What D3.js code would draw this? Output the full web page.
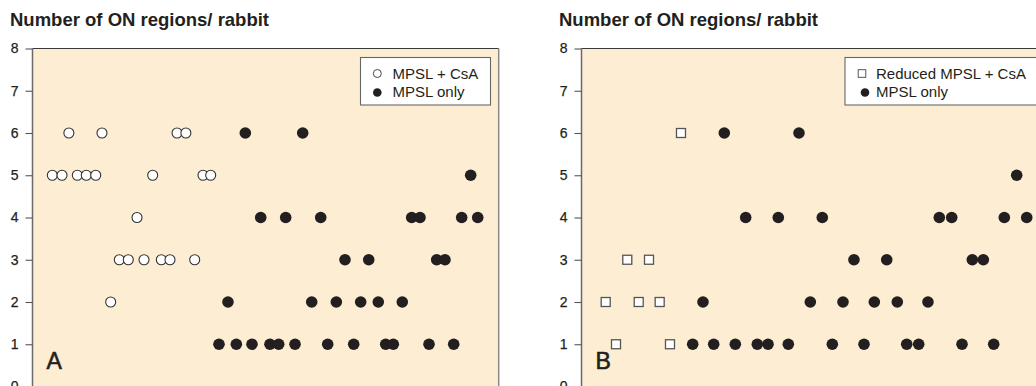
<!DOCTYPE html>
<html>
<head>
<meta charset="utf-8">
<script src="https://cdn.jsdelivr.net/npm/d3@7"></script>
<style>
  html, body { margin: 0; padding: 0; background: #ffffff; }
  svg { display: block; font-family: "Liberation Sans", Arial, Helvetica, sans-serif; }
</style>
</head>
<body>
<svg id="chart" width="1036" height="386"></svg>
<script>
// Number of optic-nerve (ON) regions per rabbit, two treatment comparisons.
const titleText = "Number of ON regions/ rabbit";
const yTickValues = [0, 1, 2, 3, 4, 5, 6, 7, 8];

// Each entry: [horizontal position of the rabbit (0–100), number of ON regions]
const comboA = [
  [7.8, 6], [14.9, 6], [31.0, 6], [32.9, 6],
  [4.25, 5], [6.33, 5], [9.61, 5], [11.54, 5], [13.56, 5], [25.78, 5], [36.57, 5], [38.22, 5],
  [22.42, 4],
  [18.62, 3], [20.55, 3], [23.92, 3], [27.63, 3], [29.49, 3], [34.79, 3],
  [16.77, 2]
];
const mpslA = [
  [45.65, 6], [57.96, 6],
  [93.99, 5],
  [48.95, 4], [54.31, 4], [61.82, 4], [81.34, 4], [83.12, 4], [92.06, 4], [95.5, 4],
  [67.03, 3], [72.12, 3], [86.70, 3], [88.48, 3],
  [41.93, 2], [59.89, 2], [65.17, 2], [70.40, 2], [74.17, 2], [79.32, 2],
  [40.0, 1], [43.72, 1], [47.08, 1], [50.94, 1], [52.81, 1], [56.31, 1], [63.32, 1],
  [68.9, 1], [75.76, 1], [77.39, 1], [85.05, 1], [90.35, 1]
];
const reducedB = [
  [21.34, 6],
  [9.82, 3], [14.48, 3],
  [5.19, 2], [12.27, 2], [16.77, 2],
  [7.40, 1], [18.98, 1]
];
const mpslB = [
  [30.63, 6], [46.65, 6],
  [93.35, 5],
  [35.22, 4], [42.21, 4], [51.65, 4], [76.75, 4], [79.41, 4], [90.69, 4], [95.5, 4],
  [58.44, 3], [65.47, 3], [83.83, 3], [86.19, 3],
  [26.06, 2], [49.08, 2], [56.09, 2], [62.81, 2], [67.74, 2], [74.32, 2],
  [23.85, 1], [28.36, 1], [32.99, 1], [37.71, 1], [40.01, 1], [44.36, 1], [53.8, 1],
  [60.6, 1], [69.76, 1], [72.33, 1], [81.62, 1], [88.42, 1]
];
const legendA = ["MPSL + CsA", "MPSL only"];
const legendB = ["Reduced MPSL + CsA", "MPSL only"];
const panelLetters = ["A", "B"];

const svg = d3.select("#chart");
const plotW = 466.2;
const plotTop = 48.5;
const plotBottom = 386.5;
const bgColor = "#fdeed3";
const dotColor = "#231f20";
const inkColor = "#231f20";

function drawPanel(left, letter, openSeries, openShape, filledSeries, legendLabels, legendBox) {
  const g = svg.append("g");
  const x = d3.scaleLinear().domain([0, 100]).range([left, left + plotW]);
  const y = d3.scaleLinear().domain([0, 8]).range([plotBottom, plotTop]);

  // title
  g.append("text")
    .attr("x", left - 22.5)
    .attr("y", 26)
    .attr("font-size", 18.5)
    .attr("font-weight", "bold")
    .attr("fill", inkColor)
    .text(titleText);

  // plot background
  g.append("rect")
    .attr("x", left).attr("y", plotTop)
    .attr("width", plotW).attr("height", plotBottom - plotTop + 20)
    .attr("fill", bgColor);

  // top and right frame
  g.append("line")
    .attr("x1", left).attr("x2", left + plotW)
    .attr("y1", plotTop).attr("y2", plotTop)
    .attr("stroke", "#3a3a3a").attr("stroke-width", 1.2);
  g.append("line")
    .attr("x1", left + plotW).attr("x2", left + plotW)
    .attr("y1", plotTop).attr("y2", plotBottom + 20)
    .attr("stroke", "#8a8a8a").attr("stroke-width", 1.5);

  // y axis
  const axis = g.append("g")
    .attr("transform", `translate(${left},0)`)
    .call(d3.axisLeft(y).tickValues(yTickValues).tickSize(7).tickSizeOuter(0).tickPadding(7));
  axis.select(".domain").attr("stroke", "#6a6a6a").attr("stroke-width", 1.5)
    .attr("d", `M0,${plotTop}V${plotBottom + 20}`);
  axis.selectAll(".tick line").attr("stroke", "#555").attr("stroke-width", 1.1);
  axis.selectAll(".tick text")
    .attr("font-size", 14)
    .attr("font-family", "Liberation Sans, Arial, sans-serif")
    .attr("fill", inkColor)
    .attr("stroke", inkColor)
    .attr("stroke-width", 0.25);

  // panel letter
  g.append("text")
    .attr("x", left + 14)
    .attr("y", 369)
    .attr("font-size", 23)
    .attr("fill", inkColor)
    .attr("stroke", inkColor)
    .attr("stroke-width", 0.6)
    .text(letter);

  // open markers (combination therapy)
  if (openShape === "circle") {
    g.append("g").selectAll("circle")
      .data(openSeries).join("circle")
      .attr("cx", d => x(d[0])).attr("cy", d => y(d[1]))
      .attr("r", 5.0)
      .attr("fill", "#ffffff")
      .attr("stroke", "#333")
      .attr("stroke-width", 1.1);
  } else {
    const s = 9;
    g.append("g").selectAll("rect")
      .data(openSeries).join("rect")
      .attr("x", d => x(d[0]) - s / 2).attr("y", d => y(d[1]) - s / 2)
      .attr("width", s).attr("height", s)
      .attr("fill", "#ffffff")
      .attr("stroke", "#555")
      .attr("stroke-width", 1.3);
  }

  // filled markers (MPSL only)
  g.append("g").selectAll("circle")
    .data(filledSeries).join("circle")
    .attr("cx", d => x(d[0])).attr("cy", d => y(d[1]))
    .attr("r", 5.8)
    .attr("fill", dotColor);

  // legend
  const lg = g.append("g").attr("transform", `translate(${legendBox.x},${legendBox.y})`);
  lg.append("rect")
    .attr("width", legendBox.w).attr("height", legendBox.h)
    .attr("fill", "#ffffff")
    .attr("stroke", "#666").attr("stroke-width", 1.1);
  if (openShape === "circle") {
    lg.append("circle")
      .attr("cx", legendBox.sym).attr("cy", 16)
      .attr("r", 4)
      .attr("fill", "#fff").attr("stroke", "#333").attr("stroke-width", 0.9);
  } else {
    lg.append("rect")
      .attr("x", legendBox.sym - 3.8).attr("y", 12.2)
      .attr("width", 7.6).attr("height", 7.6)
      .attr("fill", "#fff").attr("stroke", "#444").attr("stroke-width", 0.9);
  }
  lg.append("circle")
    .attr("cx", legendBox.sym2).attr("cy", 35)
    .attr("r", 4.3)
    .attr("fill", dotColor);
  lg.selectAll("text")
    .data(legendLabels).join("text")
    .attr("x", legendBox.tx)
    .attr("y", (d, i) => 21.5 + i * 18)
    .attr("font-size", 15)
    .attr("fill", inkColor)
    .text(d => d);
}

drawPanel(32.5, panelLetters[0], comboA, "circle", mpslA, legendA,
  { x: 360.5, y: 57.5, w: 130, h: 47.5, sym: 16.8, sym2: 16.8, tx: 32 });
drawPanel(581.5, panelLetters[1], reducedB, "square", mpslB, legendB,
  { x: 845, y: 57.5, w: 200, h: 47.5, sym: 17, sym2: 20, tx: 31 });
</script>
</body>
</html>
